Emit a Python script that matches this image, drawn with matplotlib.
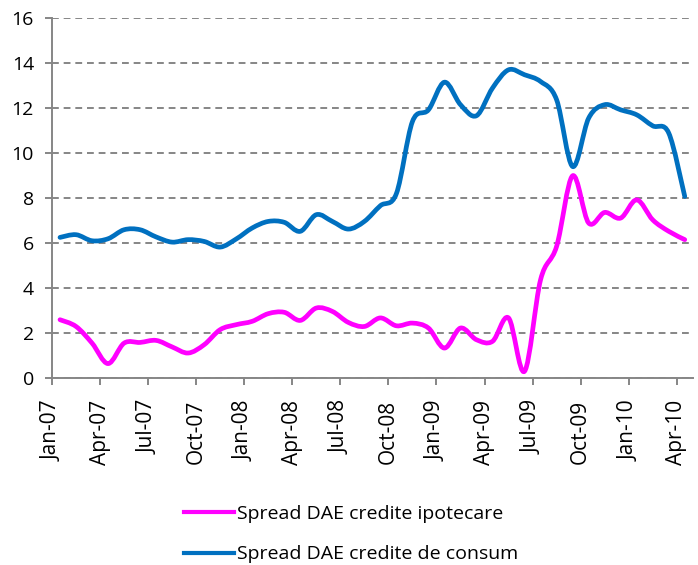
import numpy as np
import matplotlib
matplotlib.use('Agg')
import matplotlib.pyplot as plt
from matplotlib.path import Path
from matplotlib.patches import PathPatch
from matplotlib.lines import Line2D

plt.rcParams['font.family'] = ['Open Sans', 'DejaVu Sans']

# monthly values, Jan-07 .. Apr-10
ipotecare = [2.59, 2.29, 1.55, 0.64, 1.55, 1.58, 1.67, 1.38, 1.11, 1.48,
             2.15, 2.37, 2.52, 2.86, 2.92, 2.56, 3.11, 2.96, 2.47, 2.29,
             2.67, 2.32, 2.44, 2.22, 1.33, 2.22, 1.70, 1.63, 2.67, 0.30,
             4.37, 5.85, 8.99, 6.89, 7.36, 7.11, 7.92, 7.03, 6.52, 6.15]
consum = [6.25, 6.37, 6.10, 6.19, 6.59, 6.59, 6.27, 6.04, 6.15, 6.07,
          5.82, 6.18, 6.67, 6.96, 6.92, 6.52, 7.26, 6.96, 6.62, 6.96,
          7.66, 8.20, 11.40, 11.92, 13.15, 12.15, 11.66, 12.89, 13.70, 13.48,
          13.18, 12.37, 9.40, 11.55, 12.15, 11.92, 11.70, 11.21, 10.89, 8.07]
tick_labels = ['Jan-07', 'Apr-07', 'Jul-07', 'Oct-07', 'Jan-08', 'Apr-08',
               'Jul-08', 'Oct-08', 'Jan-09', 'Apr-09', 'Jul-09', 'Oct-09',
               'Jan-10', 'Apr-10']
names = ['Spread DAE credite ipotecare', 'Spread DAE credite de consum']
colors = ['#FF00FF', '#0070C0']


def smooth_path(xs, ys):
    # excel-like smoothed line: cubic bezier segments, catmull-rom control points
    pts = np.column_stack([xs, ys])
    n = len(pts)
    verts = [pts[0]]
    codes = [Path.MOVETO]
    for i in range(n - 1):
        p0 = pts[max(i - 1, 0)]
        p1 = pts[i]
        p2 = pts[i + 1]
        p3 = pts[min(i + 2, n - 1)]
        c1 = p1 + (p2 - p0) / 6.0
        c2 = p2 - (p3 - p1) / 6.0
        verts += [c1, c2, p2]
        codes += [Path.CURVE4] * 3
    return Path(verts, codes)


fig = plt.figure(figsize=(6.98, 5.65), dpi=100)
ax = fig.add_axes([0.0745, 0.331, 0.918, 0.637])

x = np.arange(len(consum)) + 0.5
for vals, c in zip([ipotecare, consum], colors):
    p = PathPatch(smooth_path(x, vals), facecolor='none', edgecolor=c,
                  lw=3.4, capstyle='round', joinstyle='round', zorder=3)
    ax.add_patch(p)

ax.set_xlim(0, 40)
ax.set_ylim(0, 16)
ax.set_yticks(range(0, 17, 2))
ax.set_xticks(range(0, 40, 3))
ax.set_xticklabels(tick_labels, rotation=90)
ax.yaxis.grid(True, color='#868686', linestyle=(0, (3.5, 2.5)), lw=1.4)
ax.set_axisbelow(True)
for s in ['top', 'right']:
    ax.spines[s].set_visible(False)
for s in ['left', 'bottom']:
    ax.spines[s].set_color('#868686')
    ax.spines[s].set_linewidth(1.4)
ax.tick_params(axis='both', colors='#868686', labelcolor='black',
               labelsize=14, length=5, width=1.4)
ax.tick_params(axis='y', pad=8)
ax.tick_params(axis='x', pad=11, labelsize=15)

handles = [Line2D([], [], color=c, lw=3) for c in colors]
fig.legend(handles, names, loc='upper left', bbox_to_anchor=(0.252, 0.12),
           frameon=False, fontsize=14, handlelength=2.6, handletextpad=0.15,
           labelspacing=1.15, borderaxespad=0)

fig.savefig('out.png', dpi=100)
